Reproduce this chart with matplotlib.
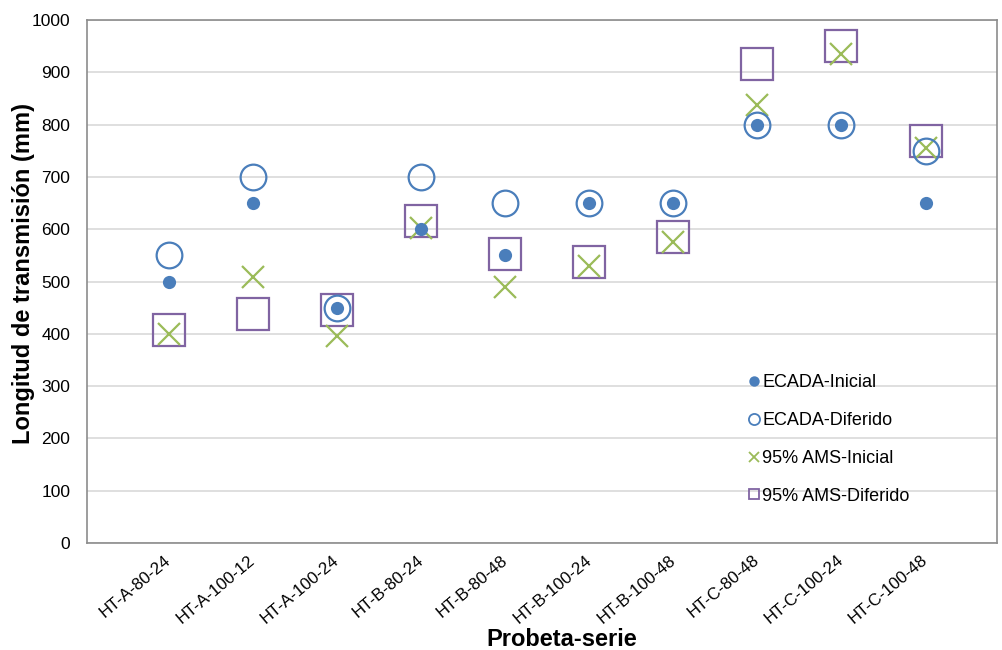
import matplotlib
matplotlib.use("Agg")
import matplotlib.pyplot as plt
from matplotlib.lines import Line2D

plt.rcParams["font.family"] = ["Liberation Sans", "DejaVu Sans"]

probetas = ["HT-A-80-24", "HT-A-100-12", "HT-A-100-24", "HT-B-80-24", "HT-B-80-48",
            "HT-B-100-24", "HT-B-100-48", "HT-C-80-48", "HT-C-100-24", "HT-C-100-48"]
ecada_inicial = [500, 650, 450, 600, 550, 650, 650, 800, 800, 650]
ecada_diferido = [550, 700, 450, 700, 650, 650, 650, 800, 800, 750]
ams_inicial = [400, 508, 396, 602, 490, 529, 576, 838, 935, 756]
ams_diferido = [408, 438, 446, 615, 552, 538, 585, 916, 950, 768]

blue = "#4a7ebb"
green = "#9bbb59"
purple = "#8064a2"
frame = "#8c8c8c"

fig = plt.figure(figsize=(10.02, 6.5), dpi=100)
ax = fig.add_axes([0.0868, 0.1646, 0.9082, 0.8046])

x = list(range(len(probetas)))

# draw order: squares, x, open circle, filled circle
ax.plot(x, ams_diferido, linestyle="none", marker="s", markersize=23,
        markerfacecolor="none", markeredgecolor=purple, markeredgewidth=1.6, zorder=3)
ax.plot(x, ams_inicial, linestyle="none", marker="x", markersize=16,
        color=green, markeredgewidth=1.6, zorder=4)
ax.plot(x, ecada_diferido, linestyle="none", marker="o", markersize=18.5,
        markerfacecolor="none", markeredgecolor=blue, markeredgewidth=1.6, zorder=5)
ax.plot(x, ecada_inicial, linestyle="none", marker="o", markersize=9.5,
        color=blue, markeredgewidth=0, zorder=6)

ax.set_ylim(0, 1000)
ax.set_yticks(range(0, 1001, 100))
ax.set_xlim(-0.975, 9.85)
ax.set_xticks(x)
ax.set_xticklabels(probetas, rotation=40, ha="right", va="center",
                   rotation_mode="anchor", fontsize=12.2)
ax.tick_params(axis="y", labelsize=12.5, length=0, pad=12)
ax.tick_params(axis="x", length=0, pad=11)
ax.yaxis.grid(True, color="#d9d9d9", linewidth=1.2)
ax.set_axisbelow(True)
for s in ax.spines.values():
    s.set_color(frame)
    s.set_linewidth(1.2)

ax.set_ylabel("Longitud de transmisión (mm)", fontsize=17, fontweight="bold")
ax.yaxis.set_label_coords(-0.057, 0.515)
ax.set_xlabel("Probeta-serie", fontsize=17, fontweight="bold")
ax.xaxis.set_label_coords(0.522, -0.163)

handles = [
    Line2D([], [], linestyle="none", marker="o", markersize=7.5, color=blue, markeredgewidth=0),
    Line2D([], [], linestyle="none", marker="o", markersize=8, markerfacecolor="none",
           markeredgecolor=blue, markeredgewidth=1.3),
    Line2D([], [], linestyle="none", marker="x", markersize=7.5, color=green, markeredgewidth=1.3),
    Line2D([], [], linestyle="none", marker="s", markersize=7.5, markerfacecolor="none",
           markeredgecolor=purple, markeredgewidth=1.3),
]
labels = ["ECADA-Inicial", "ECADA-Diferido", "95% AMS-Inicial", "95% AMS-Diferido"]
fig.legend(handles, labels, loc="upper left", bbox_to_anchor=(0.746, 0.424),
           frameon=False, fontsize=13, handlelength=0.7, handletextpad=0.12,
           labelspacing=1.15, borderpad=0, borderaxespad=0)

fig.savefig("out.png", dpi=100)
